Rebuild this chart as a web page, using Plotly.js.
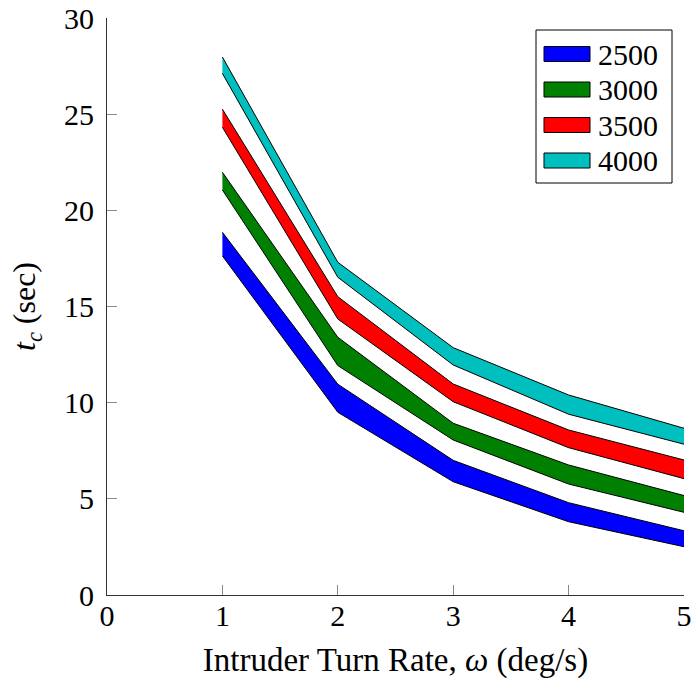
<!DOCTYPE html>
<html>
<head>
<meta charset="utf-8">
<script src="https://cdn.plot.ly/plotly-3.0.1.min.js"></script>
<style>html,body{margin:0;padding:0;background:#fff;}#chart{width:691px;height:679px;}</style>
</head>
<body>
<div id="chart"></div>
<script>
// ---- data ----
const omega = [1, 2, 3, 4, 5];
const speedLabels = ['2500', '3000', '3500', '4000'];
const upper2500 = [18.86, 10.96, 7.00, 4.80, 3.34];
const lower2500 = [17.63, 9.50, 5.89, 3.81, 2.51];
const upper3000 = [21.98, 13.40, 8.93, 6.76, 5.17];
const lower3000 = [21.06, 11.93, 8.06, 5.77, 4.30];
const upper3500 = [25.26, 15.51, 10.97, 8.58, 7.02];
const lower3500 = [24.32, 14.35, 10.05, 7.66, 6.05];
const upper4000 = [27.97, 17.30, 12.86, 10.40, 8.67];
const lower4000 = [27.12, 16.52, 11.96, 9.40, 7.84];
const xTicks = [0, 1, 2, 3, 4, 5];
const yTicks = [0, 5, 10, 15, 20, 25, 30];

const uppers = [upper2500, upper3000, upper3500, upper4000];
const lowers = [lower2500, lower3000, lower3500, lower4000];
const colors = ['#0000FF', '#008000', '#FF0000', '#00BFBF'];
const FONT = "'Liberation Serif', 'DejaVu Serif', serif";

const traces = [];
speedLabels.forEach((name, i) => {
  traces.push({
    x: omega, y: lowers[i], type: 'scatter', mode: 'lines',
    line: {color: '#000', width: 1}, showlegend: false, hoverinfo: 'skip'
  });
  traces.push({
    x: omega, y: uppers[i], type: 'scatter', mode: 'lines', name: name,
    fill: 'tonexty', fillcolor: colors[i],
    line: {color: '#000', width: 1}, showlegend: false
  });
});

// plot area geometry (pixels)
const W = 691, H = 679;
const M = {l: 107, r: 7, t: 18, b: 84};
const PW = W - M.l - M.r, PH = H - M.t - M.b;
const px = v => (v - M.l) / PW;
const py = v => (H - M.b - v) / PH;

// custom legend
const shapes = [];
const annotations = [];
shapes.push({type: 'rect', xref: 'paper', yref: 'paper',
  x0: px(536), x1: px(672), y0: py(183), y1: py(30),
  line: {color: '#000', width: 1}, fillcolor: '#fff', layer: 'above'});
const rowY = [54, 89.5, 125, 160.5];
speedLabels.forEach((name, i) => {
  shapes.push({type: 'rect', xref: 'paper', yref: 'paper',
    x0: px(544), x1: px(590), y0: py(rowY[i] + 7.5), y1: py(rowY[i] - 7.5),
    line: {color: '#000', width: 1}, fillcolor: colors[i], layer: 'above'});
  annotations.push({xref: 'paper', yref: 'paper', x: px(596), y: py(rowY[i]),
    xanchor: 'left', yanchor: 'middle', text: name, showarrow: false,
    font: {family: FONT, size: 30, color: '#000'}});
});

const layout = {
  width: W, height: H,
  margin: M,
  paper_bgcolor: '#fff', plot_bgcolor: '#fff',
  font: {family: FONT, size: 30, color: '#000'},
  showlegend: false,
  xaxis: {
    range: [0, 5], tickvals: xTicks, ticktext: xTicks.map(String),
    ticks: 'inside', ticklen: 10, tickcolor: '#888', tickwidth: 1,
    showline: true, linecolor: '#333', linewidth: 1,
    showgrid: false, zeroline: false, ticklabeloverflow: 'allow',
    tickfont: {family: FONT, size: 30}, ticklabelstandoff: -6,
    title: {text: 'Intruder Turn Rate, <i>ω</i> (deg/s)', font: {family: FONT, size: 33}, standoff: 22}
  },
  yaxis: {
    range: [0, 30], tickvals: yTicks, ticktext: yTicks.map(String),
    ticks: 'inside', ticklen: 10, tickcolor: '#888', tickwidth: 1,
    showline: true, linecolor: '#333', linewidth: 1,
    showgrid: false, zeroline: false, ticklabeloverflow: 'allow',
    tickfont: {family: FONT, size: 30}, ticklabelstandoff: 6,
    title: {text: '<i>t</i><sub><i>c</i></sub> (sec)', font: {family: FONT, size: 32}, standoff: 18}
  },
  shapes: shapes,
  annotations: annotations
};

Plotly.newPlot('chart', traces, layout, {displayModeBar: false, staticPlot: true});
</script>
</body>
</html>
